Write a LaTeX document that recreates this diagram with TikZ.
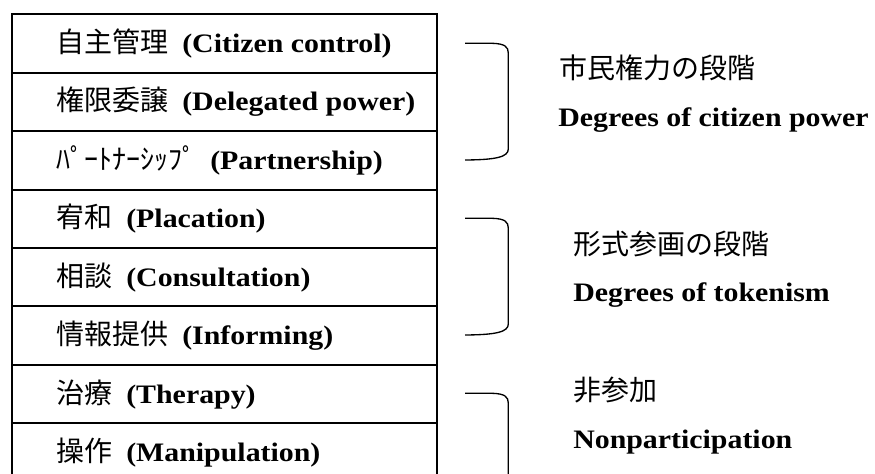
\documentclass[tikz,border=0pt]{standalone}
\usepackage{fontspec}
\setmainfont{Liberation Serif}[FakeStretch=1.12]
\newfontfamily\jpfont{Noto Sans CJK JP}
\newcommand\jpt[1]{{\jpfont\mdseries\fontsize{21}{24}\selectfont #1}}
\tikzset{
  rowbox/.style={draw, line width=1.5pt, minimum width=318.75pt, minimum height=43.82pt,
    anchor=north west, inner sep=0pt},
  lbl/.style={anchor=base west, inner sep=0pt, font=\fontsize{20}{24}\selectfont\bfseries},
  brk/.style={line width=1pt},
  gap/.style={}
}
\newcommand\gp{\kern10.5pt}
\begin{document}
\begin{tikzpicture}[x=0.75pt,y=-0.75pt]
\clip (0,0) rectangle (875,474);
\fill[white] (0,0) rectangle (875,474);
% table rows
\foreach \i in {1,...,8}{
  \node[rowbox] (r\i) at (11,{13.3+(\i-1)*58.425}) {};
}
\node[lbl] (t1) at ([xshift=33.75pt,yshift=-6.75pt]r1.west) {\jpt{自主管理}\gp(Citizen control)};
\node[lbl] (t2) at ([xshift=33.75pt,yshift=-6.75pt]r2.west) {\jpt{権限委譲}\gp(Delegated power)};
\node[lbl] (t3) at ([xshift=33.75pt,yshift=-6.75pt]r3.west) {\jpt{ﾊﾟｰﾄﾅｰｼｯﾌﾟ}\gp(Partnership)};
\node[lbl] (t4) at ([xshift=33.75pt,yshift=-6.75pt]r4.west) {\jpt{宥和}\gp(Placation)};
\node[lbl] (t5) at ([xshift=33.75pt,yshift=-6.75pt]r5.west) {\jpt{相談}\gp(Consultation)};
\node[lbl] (t6) at ([xshift=33.75pt,yshift=-6.75pt]r6.west) {\jpt{情報提供}\gp(Informing)};
\node[lbl] (t7) at ([xshift=33.75pt,yshift=-6.75pt]r7.west) {\jpt{治療}\gp(Therapy)};
\node[lbl] (t8) at ([xshift=33.75pt,yshift=-6.75pt]r8.west) {\jpt{操作}\gp(Manipulation)};
% brackets
\foreach \dy in {0,175,350}{
  \draw[brk] (465,43.3+\dy) -- (492,43.3+\dy)
    .. controls (505,43.6+\dy) and (508.3,47+\dy) .. (508.3,53+\dy)
    -- (508.3,149+\dy)
    .. controls (508.3,157+\dy) and (496,159.8+\dy) .. (465,160+\dy);
}
% group labels
\node[lbl] (g1j) at (559,79) {\jpt{市民権力の段階}};
\node[lbl] (g1e) at (558,126.7) {Degrees of citizen power};
\node[lbl] (g2j) at (573,254) {\jpt{形式参画の段階}};
\node[lbl] (g2e) at (573,301.7) {Degrees of tokenism};
\node[lbl] (g3j) at (573,400.5) {\jpt{非参加}};
\node[lbl] (g3e) at (573,448) {Nonparticipation};
\end{tikzpicture}
\end{document}
